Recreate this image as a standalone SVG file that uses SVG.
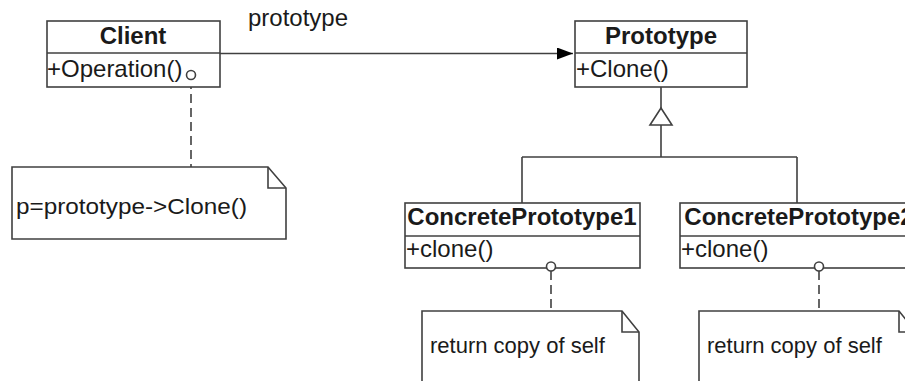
<svg xmlns="http://www.w3.org/2000/svg" width="905" height="381" viewBox="0 0 905 381">
<style>
.box{fill:#fff;stroke:#404040;stroke-width:1.6}
.ln{fill:none;stroke:#404040;stroke-width:1.6}
.dash{fill:none;stroke:#404040;stroke-width:1.6;stroke-dasharray:9 5}
.t{font-family:"Liberation Sans",Arial,sans-serif;font-size:24px;fill:#1a1a1a}
.b{font-weight:bold;text-anchor:middle}
.n{font-family:"Liberation Sans",Arial,sans-serif;font-size:22px;fill:#1a1a1a}
.port{fill:#fff;stroke:#404040;stroke-width:1.6}
</style>
<defs>
<marker id="filled" viewBox="0 0 16 12" refX="16" refY="6" markerWidth="16" markerHeight="12" markerUnits="userSpaceOnUse" orient="auto">
<path d="M0,0 L16,6 L0,12 Z" fill="#000"/>
</marker>
</defs>
<rect width="905" height="381" fill="#fff"/>
<g id="connectors">
<path class="ln" d="M220,53.5 L573,53.5" marker-end="url(#filled)"/>
<text class="t" x="248" y="26">prototype</text>
<path class="ln" d="M661,87 L661,108 M661,125 L661,157 M522,157 L797,157 M522,157 L522,203 M797,157 L797,203"/>
<path class="box" d="M661,108 L650,125 L672,125 Z"/>
<path class="dash" d="M191,80 L191,167"/>
<path class="dash" d="M551,271 L551,311"/>
<path class="dash" d="M819,271 L819,311"/>
</g>
<g id="client">
<rect class="box" x="47" y="21" width="173" height="66"/>
<line class="ln" x1="47" y1="53" x2="220" y2="53"/>
<text class="t b" x="133" y="44">Client</text>
<text class="t" x="47" y="77">+Operation()</text>
<circle class="port" cx="191" cy="75" r="4.5"/>
</g>
<g id="prototype">
<rect class="box" x="575" y="21" width="172" height="66"/>
<line class="ln" x1="575" y1="53" x2="747" y2="53"/>
<text class="t b" x="661" y="44">Prototype</text>
<text class="t" x="576" y="77">+Clone()</text>
</g>
<g id="concrete1">
<rect class="box" x="405" y="203" width="235" height="65"/>
<line class="ln" x1="405" y1="236" x2="640" y2="236"/>
<text class="t b" x="522" y="225">ConcretePrototype1</text>
<text class="t" x="406" y="257">+clone()</text>
<circle class="port" cx="551" cy="266.5" r="4.5"/>
</g>
<g id="concrete2">
<rect class="box" x="680" y="203" width="240" height="65"/>
<line class="ln" x1="680" y1="236" x2="920" y2="236"/>
<text class="t b" x="799" y="225">ConcretePrototype2</text>
<text class="t" x="681" y="257">+clone()</text>
<circle class="port" cx="819" cy="266.5" r="4.5"/>
</g>
<g id="note-client">
<path class="box" d="M12,167 L268,167 L286,188 L286,239 L12,239 Z"/>
<path class="ln" d="M268,167 L268,188 L286,188"/>
<text class="n" x="16" y="214" textLength="231" lengthAdjust="spacingAndGlyphs">p=prototype-&gt;Clone()</text>
</g>
<g id="note-1">
<path class="box" d="M422,311 L622,311 L639,332 L639,390 L422,390 Z"/>
<path class="ln" d="M622,311 L622,332 L639,332"/>
<text class="n" x="430" y="353">return copy of self</text>
</g>
<g id="note-2">
<path class="box" d="M699,311 L899,311 L916,332 L916,390 L699,390 Z"/>
<path class="ln" d="M899,311 L899,332 L916,332"/>
<text class="n" x="707" y="353">return copy of self</text>
</g>
</svg>
